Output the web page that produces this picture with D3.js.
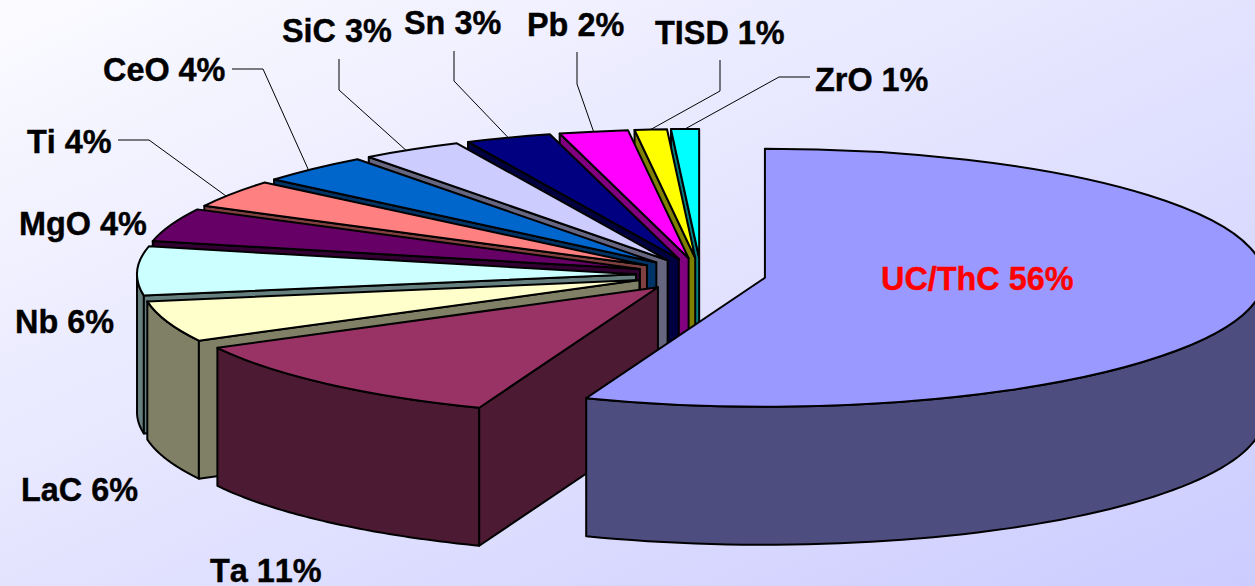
<!DOCTYPE html>
<html>
<head>
<meta charset="utf-8">
<script src="https://d3js.org/d3.v7.min.js"></script>
<style>
body { margin: 0; overflow: hidden; }
text { font-family: "Liberation Sans", Arial, sans-serif; font-weight: bold; font-size: 32.4px; font-kerning: none; stroke-width: 0.4px; }
</style>
</head>
<body>
<div class="chart"></div>
<script>
// DATA ------------------------------
const names  = ["UC/ThC", "Ta", "LaC", "Nb", "MgO", "Ti", "CeO", "SiC", "Sn", "Pb", "TISD", "ZrO"];
const shares = [55.83, 11.39, 5.14, 6.11, 4.17, 3.47, 3.67, 3.28, 2.78, 2.22, 1.04, 0.9];
const labels = ["56%", "11%", "6%", "6%", "4%", "4%", "4%", "3%", "3%", "2%", "1%", "1%"];
const topColors  = ["#9999ff", "#993366", "#ffffcc", "#ccffff", "#660066", "#ff8080", "#0066cc", "#ccccff", "#000080", "#ff00ff", "#ffff00", "#00ffff"];
const wallColors = ["#4d4d80", "#4d1a33", "#808066", "#668080", "#330033", "#804040", "#003366", "#666680", "#000040", "#800080", "#808000", "#008080"];

// LAYOUT ----------------------------
const w = 1255, h = 586;
const center = {x: 701, y: 274.7};
const rx = 499, ry = 129, depth = 138, explode = 65;
const squash = ry / rx;

// label start x / baseline y
const labelX = [881, 210, 21, 15, 19, 27, 103, 282, 404, 527, 655, 815];
const labelY = [290, 582, 501, 333, 235, 153, 81, 42, 34, 36, 44, 91];
// leader lines: start and elbow, last point comes from the slice rim
const leaders = {
  Ti:   {from: [118, 140], elbow: [149, 140], at: 0.4},
  CeO:  {from: [232, 69],  elbow: [263, 69],  at: 0.44},
  SiC:  {from: [339, 59],  elbow: [339, 90],  at: 0.44},
  Sn:   {from: [454, 51],  elbow: [454, 81],  at: 0.5},
  Pb:   {from: [577, 52],  elbow: [577, 84],  at: 0.5},
  TISD: {from: [720, 60],  elbow: [720, 91],  at: 0.5},
  ZrO:  {from: [810, 77],  elbow: [779, 77],  at: 0.5}
};

// CHART -----------------------------
const svg = d3.select(".chart").append("svg")
  .attr("width", w)
  .attr("height", h)
  .style("display", "block");

const grad = svg.append("defs").append("linearGradient")
  .attr("id", "bg")
  .attr("x1", "0%").attr("y1", "0%")
  .attr("x2", "100%").attr("y2", "100%");
grad.append("stop").attr("offset", "0%").attr("stop-color", "#fbfbff");
grad.append("stop").attr("offset", "100%").attr("stop-color", "#ccccff");

svg.append("rect").attr("width", w).attr("height", h).attr("fill", "url(#bg)");

const pie = d3.pie().sort(null).value(d => d.share);
const slices = pie(names.map((name, i) => ({name, share: shares[i], i})));

// exploded slice apex, moved out along its middle angle
slices.forEach(s => {
  const mid = (s.startAngle + s.endAngle) / 2;
  s.cx = center.x + explode * Math.sin(mid);
  s.cy = center.y - explode * Math.cos(mid) * squash;
});

const rimX = (s, a) => s.cx + rx * Math.sin(a);
const rimY = (s, a) => s.cy - ry * Math.cos(a);

const arc = d3.arc().innerRadius(0).outerRadius(rx);
const line = d3.line();

// far slices first, the big one goes last
const g = svg.append("g");
slices.slice().reverse().forEach(s => {
  const c = wallColors[s.data.i];

  // outer wall, only the part facing the viewer
  const a0 = Math.max(s.startAngle, Math.PI / 2);
  const a1 = Math.min(s.endAngle, Math.PI * 1.5);
  if (a1 > a0) {
    const steps = d3.range(0, 61).map(k => a0 + (a1 - a0) * k / 60);
    const upper = steps.map(a => [rimX(s, a), rimY(s, a)]);
    const lower = steps.slice().reverse().map(a => [rimX(s, a), rimY(s, a) + depth]);
    g.append("path")
      .attr("d", line(upper.concat(lower)) + "Z")
      .attr("fill", c).attr("stroke", "#000").attr("stroke-width", 2)
      .attr("stroke-linejoin", "round");
  }

  // radial wall on the clockwise-start side (edge-on for the first slice)
  const a = s.startAngle;
  if (a > 0) {
    g.append("path")
      .attr("d", line([
        [s.cx, s.cy],
        [rimX(s, a), rimY(s, a)],
        [rimX(s, a), rimY(s, a) + depth],
        [s.cx, s.cy + depth]
      ]) + "Z")
      .attr("fill", c).attr("stroke", "#000").attr("stroke-width", 2)
      .attr("stroke-linejoin", "round");
  }

  // top face
  g.append("path")
    .attr("d", arc(s))
    .attr("transform", `translate(${s.cx},${s.cy}) scale(1,${squash})`)
    .attr("fill", topColors[s.data.i])
    .attr("stroke", "#000").attr("stroke-width", 2)
    .attr("stroke-linejoin", "round")
    .attr("vector-effect", "non-scaling-stroke");
});

// leader lines
slices.filter(s => leaders[s.data.name]).forEach(s => {
  const l = leaders[s.data.name];
  const a = s.startAngle + (s.endAngle - s.startAngle) * l.at;
  svg.append("path")
    .attr("d", line([l.from, l.elbow, [rimX(s, a), rimY(s, a)]]))
    .attr("fill", "none")
    .attr("stroke", "#000")
    .attr("stroke-width", 1);
});

// labels
svg.selectAll(".lab")
  .data(slices)
  .join("text")
  .attr("class", "lab")
  .attr("x", d => labelX[d.data.i])
  .attr("y", d => labelY[d.data.i])
  .attr("fill", d => d.data.i === 0 ? "#ff0000" : "#000")
  .attr("stroke", d => d.data.i === 0 ? "#ff0000" : "#000")
  .text(d => d.data.name + " " + labels[d.data.i]);
</script>
</body>
</html>
